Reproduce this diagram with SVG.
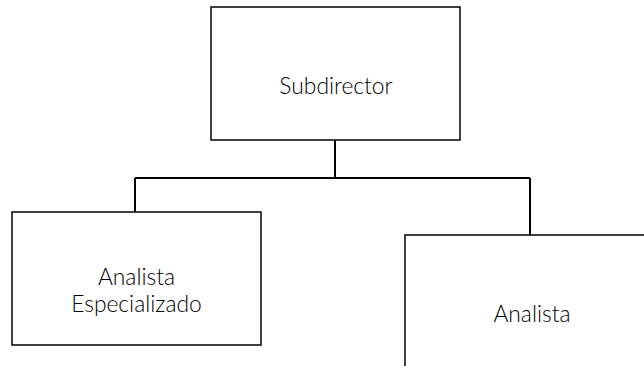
<svg xmlns="http://www.w3.org/2000/svg" width="644" height="366" viewBox="0 0 644 366">
  <style>
    .box { fill: #ffffff; stroke: #000000; stroke-width: 1.5; }
    .wire { fill: none; stroke: #000000; stroke-width: 2; }
    .label { font-family: Lato, "Noto Sans", sans-serif; font-weight: 300; font-size: 22.8px; fill: #000000; text-anchor: middle; }
  </style>
  <rect width="644" height="366" fill="#ffffff"/>
  <g id="connectors">
    <path class="wire" d="M335 140 V178 M135 178 H530 M135 178 V212 M530 178 V235"/>
  </g>
  <g id="subdirector">
    <rect class="box" x="211" y="7" width="249" height="133"/>
    <text class="label" x="336" y="94">Subdirector</text>
  </g>
  <g id="analista-especializado">
    <rect class="box" x="12" y="212" width="249" height="133"/>
    <text class="label" x="136.5" y="285">Analista</text>
    <text class="label" x="136.5" y="312">Especializado</text>
  </g>
  <g id="analista">
    <rect class="box" x="405" y="235" width="249" height="133"/>
    <text class="label" x="532" y="322">Analista</text>
  </g>
</svg>
